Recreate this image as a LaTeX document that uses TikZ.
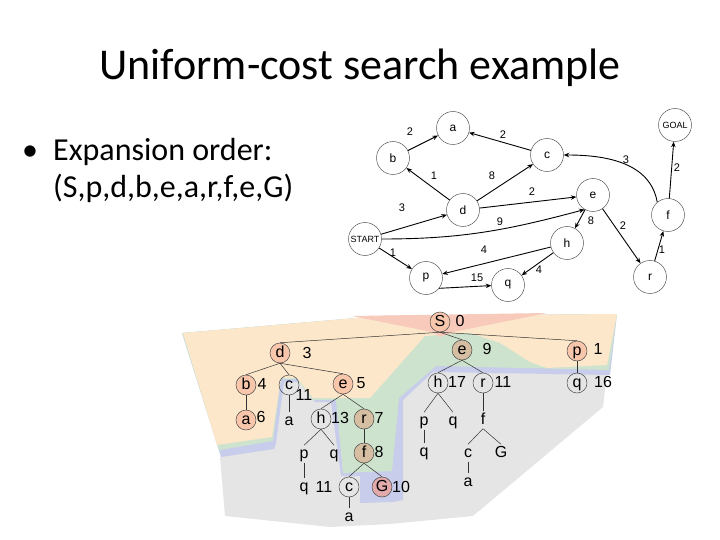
\documentclass[tikz,border=0pt]{standalone}
\usepackage{fontspec}
\setmainfont{Carlito}
\newfontfamily\arialf{Liberation Sans}
\usetikzlibrary{arrows.meta}
\definecolor{pinkR}{RGB}{247,202,188}
\definecolor{orangeR}{RGB}{252,231,202}
\definecolor{greenR}{RGB}{206,227,206}
\definecolor{blueR}{RGB}{199,205,234}
\definecolor{greyR}{RGB}{229,229,229}
\definecolor{nodeO}{RGB}{248,198,170}
\definecolor{nodeT}{RGB}{214,190,162}
\definecolor{nodeG}{RGB}{226,170,170}
\begin{document}
\begin{tikzpicture}[x=1pt,y=-1pt,
 gnode/.style={circle,draw=black!65,line width=0.5pt,minimum size=33pt,inner sep=0pt,font=\arialf\fontsize{12}{12}\selectfont},
 gsmall/.style={gnode,font=\arialf\fontsize{9}{9}\selectfont},
 garr/.style={line width=0.9pt,-{Stealth[length=5.5pt,width=4.5pt]}},
 glab/.style={font=\arialf\fontsize{11}{11}\selectfont,inner sep=0pt},
 tn/.style={circle,draw=black!70,line width=0.5pt,minimum size=20pt,inner sep=0pt,text height=9pt,text depth=0pt,font=\arialf\fontsize{16}{16}\selectfont},
 tt/.style={inner sep=1pt,text height=12pt,text depth=3pt,font=\arialf\fontsize{16}{16}\selectfont},
 tl/.style={inner sep=0pt,font=\arialf\fontsize{16}{16}\selectfont},
 te/.style={line width=0.5pt,draw=black!80},
]
\useasboundingbox (0,0) rectangle (720,540);
% title and bullet
\node[anchor=base,font=\fontsize{44}{44}\selectfont] (title) at (360,80) {Uniform-cost search example};
\node[anchor=base,font=\fontsize{32}{32}\selectfont] (bul) at (30,161) {•};
\node[anchor=base west,font=\fontsize{32}{32}\selectfont,inner sep=0pt] (l1) at (53,161) {Expansion order:};
\node[anchor=base west,font=\fontsize{32}{32}\selectfont,inner sep=0pt] (l2) at (53,197) {(S,p,d,b,e,a,r,f,e,G)};
% contour regions
\fill[greyR] (220,457) -- (225,516) -- (330,527) -- (390,524) -- (473,516) -- (603,407) -- (607,372) -- (433,368) -- (398,395) -- (340,395) -- (298,377) -- (279,377) -- (272,440) -- cycle;
\fill[blueR] (182,333) -- (380,316) -- (617,314) -- (610,375) -- (433,372) -- (403,400) -- (403,500) -- (393,502) -- (360,503) -- (360,476) -- (341,476) -- (331,402) -- (315,402) -- (300,382) -- (284,382) -- (276,443) -- (274,449) -- (221,457) -- cycle;
\fill[greenR] (182,333) -- (380,316) -- (617,314) -- (609,370) -- (436,366) -- (399,398) -- (392,471) -- (343,473) -- (336,400) -- (313,400) -- (297,379) -- (281,379) -- (273,441) -- (219,450) -- cycle;
\fill[orangeR] (183,333) -- (380,316) -- (617,314) -- (607,365) -- (547,368) -- (530,362) -- (500,343) -- (470,333) -- (425,336) -- (370,398) -- (313,398) -- (297,378) -- (281,378) -- (272,437) -- (217,445) -- cycle;
\fill[pinkR] (352,316) -- (547,313) -- (453,332) -- (440,337) -- (432,332) -- cycle;
% tree nodes
\node[tn,fill=nodeO] (S) at (440,322) {S};
\node[tl] (S0) at (460,321) {0};
\node[tn,fill=nodeO] (d) at (280,353) {d};
\node[tl] (d3) at (307,353) {3};
\node[tn,fill=nodeT] (e9) at (462,350) {e};
\node[tl] (e9l) at (487,349) {9};
\node[tn,fill=nodeO] (p1) at (577,351) {p};
\node[tl] (p1l) at (598,349) {1};
\node[tn,fill=nodeO] (tb) at (246,385) {b};
\node[tl] (b4) at (262,384) {4};
\node[tn] (c1) at (289,385) {c};
\node[tl] (c1l) at (304,395) {11};
\node[tn,fill=nodeO] (e5) at (343,384) {e};
\node[tl] (e5l) at (361,383) {5};
\node[tn] (h17) at (438,383) {h};
\node[tl] (h17l) at (457,382) {17};
\node[tn] (r11) at (483,383) {r};
\node[tl] (r11l) at (503,382) {11};
\node[tn] (q16) at (577,383) {q};
\node[tl] (q16l) at (603,382) {16};
\node[tn,fill=nodeO] (a6) at (246,420) {a};
\node[tl] (a6l) at (261,417) {6};
\node[tt] (ac) at (289,421) {a};
\node[tn] (h13) at (321,419) {h};
\node[tl] (h13l) at (340,418) {13};
\node[tn,fill=nodeT] (r7) at (364,419) {r};
\node[tl] (r7l) at (379,418) {7};
\node[tt] (ph) at (424,421) {p};
\node[tt] (qh) at (453,421) {q};
\node[tt] (fr) at (483,420) {f};
\node[tt] (ph13) at (304,454) {p};
\node[tt] (qh13) at (334,454) {q};
\node[tn,fill=nodeT] (f8) at (364,453) {f};
\node[tl] (f8l) at (379,452) {8};
\node[tt] (qph) at (424,452) {q};
\node[tt] (cf) at (468,453) {c};
\node[tt] (Gf) at (501,453) {G};
\node[tt] (qph13) at (304,487) {q};
\node[tl] (l11) at (324,487) {11};
\node[tn] (c2) at (349,487) {c};
\node[tn,fill=nodeG] (G10) at (382,487) {G};
\node[tl] (G10l) at (401,487) {10};
\node[tt] (ac2) at (349,517) {a};
\node[tt] (acf) at (468,482) {a};
% tree edges
\draw[te] (S.south) -- (d.north);
\draw[te] (S.south) -- (e9.north);
\draw[te] (S.south) -- (p1.north);
\draw[te] (d.south) -- (tb.north);
\draw[te] (d.south) -- (c1.north);
\draw[te] (d.south) -- (e5.north);
\draw[te] (tb.south) -- (a6.north);
\draw[te] (c1.south) -- (ac.north);
\draw[te] (e5.south) -- (h13.north);
\draw[te] (e5.south) -- (r7.north);
\draw[te] (h13.south) -- (ph13.north);
\draw[te] (h13.south) -- (qh13.north);
\draw[te] (ph13.south) -- (qph13.north);
\draw[te] (r7.south) -- (f8.north);
\draw[te] (f8.south) -- (c2.north);
\draw[te] (f8.south) -- (G10.north);
\draw[te] (c2.south) -- (ac2.north);
\draw[te] (e9.south) -- (h17.north);
\draw[te] (e9.south) -- (r11.north);
\draw[te] (h17.south) -- (ph.north);
\draw[te] (h17.south) -- (qh.north);
\draw[te] (ph.south) -- (qph.north);
\draw[te] (r11.south) -- (fr.north);
\draw[te] (fr.south) -- (cf.north);
\draw[te] (fr.south) -- (Gf.north);
\draw[te] (cf.south) -- (acf.north);
\draw[te] (p1.south) -- (q16.north);
% state graph
\node[gnode] (a) at (453,128) {a};
\node[gnode] (b) at (393,158) {b};
\node[gnode] (c) at (547,155) {c};
\node[gsmall] (goal) at (675,125) {GOAL};
\node[gnode] (dg) at (463,210) {d};
\node[gnode] (e) at (593,195) {e};
\node[gnode] (f) at (668,215) {f};
\node[gsmall] (start) at (365,239) {START};
\node[gnode] (h) at (567,243) {h};
\node[gnode] (p) at (426,278) {p};
\node[gnode] (q) at (508,285) {q};
\node[gnode] (r) at (650,277) {r};
\draw[garr] (b) -- (a);
\draw[garr] (c) -- (a);
\draw[garr] (dg) -- (b);
\draw[garr] (dg) -- (c);
\draw[garr] (f.130) to[out=100,in=0] (c.east);
\draw[garr] (f) -- (goal);
\draw[garr] (dg) -- (e);
\draw[garr] (start) -- (dg);
\draw[garr] (start.east) to[out=0,in=195] (e.-120);
\draw[garr] (e) -- (h);
\draw[garr] (e) -- (r);
\draw[garr] (r) -- (f);
\draw[garr] (start) -- (p);
\draw[garr] (h) -- (p);
\draw[garr] (h) -- (q);
\draw[garr] (p.-38) -- (q.182);
\node[glab] (w1) at (410,132) {2};
\node[glab] (w2) at (503,135) {2};
\node[glab] (w3) at (434,176) {1};
\node[glab] (w4) at (492,176) {8};
\node[glab] (w5) at (626,160) {3};
\node[glab] (w6) at (677,168) {2};
\node[glab] (w7) at (532,192) {2};
\node[glab] (w8) at (402,208) {3};
\node[glab] (w9) at (500,222) {9};
\node[glab] (w10) at (591,221) {8};
\node[glab] (w11) at (623,226) {2};
\node[glab] (w12) at (662,250) {1};
\node[glab] (w13) at (393,253) {1};
\node[glab] (w14) at (484,250) {4};
\node[glab] (w15) at (539,270) {4};
\node[glab] (w16) at (477,278) {15};
\end{tikzpicture}
\end{document}
